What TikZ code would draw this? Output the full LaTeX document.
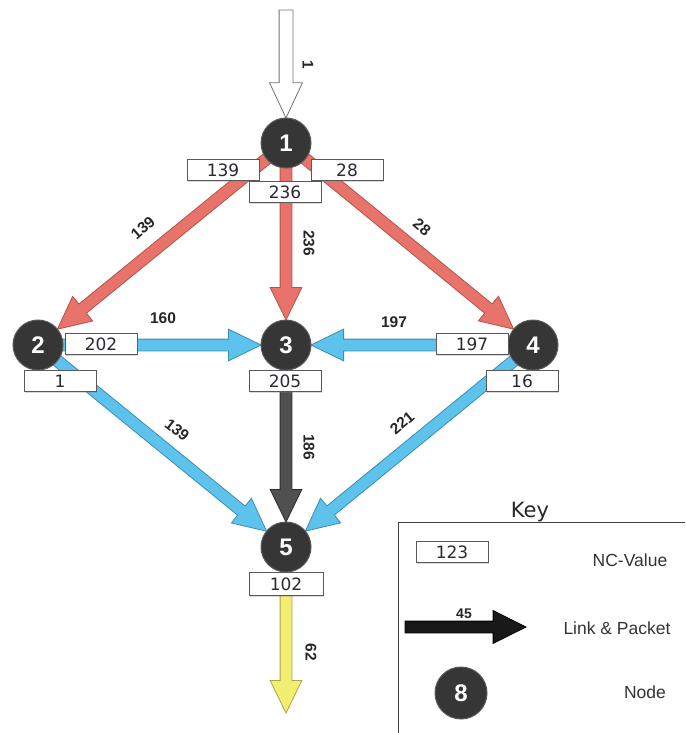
\documentclass[tikz,border=0pt]{standalone}
\usepackage{fontspec}
\setmainfont{Liberation Sans}
\newfontfamily\boxfont{DejaVu Sans}
\usetikzlibrary{shapes.arrows,calc,shadows}
\pgfdeclarelayer{bg}
\pgfsetlayers{bg,main}

\definecolor{redA}{HTML}{E8736B}
\definecolor{redB}{HTML}{B4534C}
\definecolor{blueA}{HTML}{5EC3EC}
\definecolor{blueB}{HTML}{3B8DB3}
\definecolor{greyA}{HTML}{505050}
\definecolor{greyB}{HTML}{2E2E2E}
\definecolor{yelA}{HTML}{F3EE72}
\definecolor{yelB}{HTML}{A9A54A}
\definecolor{nodeF}{HTML}{363636}
\definecolor{txtC}{HTML}{2A2A35}

\tikzset{
  blk/.style={single arrow, draw, line width=0.8pt, inner xsep=0pt, inner ysep=5.5pt,
    outer sep=0pt, single arrow head extend=10pt, single arrow tip angle=52,
    single arrow head indent=0pt, minimum width=0pt},
  redarr/.style={blk, fill=redA, draw=redB},
  bluearr/.style={blk, fill=blueA, draw=blueB},
  greyarr/.style={blk, fill=greyA, draw=greyB},
  yelarr/.style={blk, fill=yelA, draw=yelB},
  inarr/.style={blk, fill=white, draw=black!55, inner ysep=6.5pt,
    single arrow head extend=9.5pt, single arrow tip angle=50},
  keyarr/.style={blk, fill=black!90, draw=black, inner ysep=5.5pt,
    single arrow head extend=10.5pt, single arrow tip angle=53},
  netnode/.style={circle, fill=nodeF, draw=black!65, line width=1pt, minimum size=50pt,
    inner sep=0pt, text=white, font=\bfseries\fontsize{24}{24}\selectfont},
  ncbox/.style={rectangle, draw=black!65, fill=white, line width=0.8pt,
    minimum width=72pt, minimum height=21pt, inner sep=0pt, text=txtC,
    font=\boxfont\fontsize{17}{17}\selectfont,
    drop shadow={shadow xshift=1pt, shadow yshift=-1pt, opacity=0.3}},
  alab/.style={font=\bfseries\fontsize{15.5}{15.5}\selectfont, text=black!85, inner sep=0pt},
  keytxt/.style={font=\fontsize{17.5}{17.5}\selectfont, text=black!80, inner sep=0pt},
}

\newcommand\blockarrow[3]{%
  \path let \p1=(#2), \p2=(#3), \n1={atan2(\y2-\y1,\x2-\x1)},
    \n2={veclen(\x2-\x1,\y2-\y1)} in
    node[#1, anchor=tail, rotate=\n1, minimum height=\n2] at (\p1) {};}

\begin{document}
\begin{tikzpicture}[x=1pt,y=-1pt]
\useasboundingbox (0,0) rectangle (685,733);

% network nodes
\node[netnode] (n1) at (286,143) {1};
\node[netnode] (n2) at (38,345) {2};
\node[netnode] (n3) at (286,345) {3};
\node[netnode] (n4) at (533,345) {4};
\node[netnode] (n5) at (286,547) {5};
\coordinate (in) at (286,10);
\coordinate (out) at (286,713);

% NC-value boxes
\node[ncbox] (b1a) at (223,170) {139};
\node[ncbox] (b1b) at (347,170) {28};
\node[ncbox] (b1c) at (285,192) {236};
\node[ncbox] (b2a) at (101,344) {202};
\node[ncbox] (b2b) at (60,381) {1};
\node[ncbox] (b3) at (285,381) {205};
\node[ncbox] (b4a) at (472,344) {197};
\node[ncbox] (b4b) at (522,381) {16};
\node[ncbox, minimum width=74pt, minimum height=23pt] (b5) at (286,584) {102};

% arrows
\begin{pgfonlayer}{bg}
\blockarrow{inarr}{in}{$(n1.center)!25pt!(in)$}
\blockarrow{redarr}{n1.center}{$(n2.center)!25pt!(n1.center)$}
\blockarrow{redarr}{n1.center}{$(n3.center)!25pt!(n1.center)$}
\blockarrow{redarr}{n1.center}{$(n4.center)!25pt!(n1.center)$}
\blockarrow{bluearr}{n2.center}{$(n3.center)!25pt!(n2.center)$}
\blockarrow{bluearr}{n4.center}{$(n3.center)!25pt!(n4.center)$}
\blockarrow{bluearr}{n2.center}{$(n5.center)!25pt!(n2.center)$}
\blockarrow{bluearr}{n4.center}{$(n5.center)!25pt!(n4.center)$}
\blockarrow{greyarr}{n3.center}{$(n5.center)!25pt!(n3.center)$}
\blockarrow{yelarr}{n5.center}{out}
\end{pgfonlayer}

% arrow labels
\node[alab, rotate=-90] (lin) at (308,65) {1};
\node[alab, rotate=41] (l12) at (143,228) {139};
\node[alab, rotate=-90] (l13) at (309,243) {236};
\node[alab, rotate=-40] (l14) at (422,227) {28};
\node[alab] (l23) at (163,318) {160};
\node[alab] (l43) at (394,322) {197};
\node[alab, rotate=-38] (l25) at (177,430) {139};
\node[alab, rotate=-90] (l35) at (309,447) {186};
\node[alab, rotate=40] (l45) at (402,423) {221};
\node[alab, rotate=-90] (l5o) at (311,652) {62};

% key
\draw[black!75, line width=1pt] (685,522) -- (398,522) -- (398,733);
\node[font=\boxfont\fontsize{21}{21}\selectfont, text=black!85, inner sep=0pt] (keyt) at (530,512) {Key};
\node[ncbox] (kbox) at (452,552) {123};
\node[keytxt] (kt1) at (630,560) {NC-Value};
\coordinate (k1) at (405,627);
\coordinate (k2) at (526,627);
\blockarrow{keyarr}{k1}{k2}
\node[alab, font=\bfseries\fontsize{14}{14}\selectfont] (k45) at (464,614) {45};
\node[keytxt] (kt2) at (617,628) {Link \& Packet};
\node[netnode, minimum size=52pt] (k8) at (461,693) {8};
\node[keytxt] (kt3) at (645,692) {Node};
\end{tikzpicture}
\end{document}
